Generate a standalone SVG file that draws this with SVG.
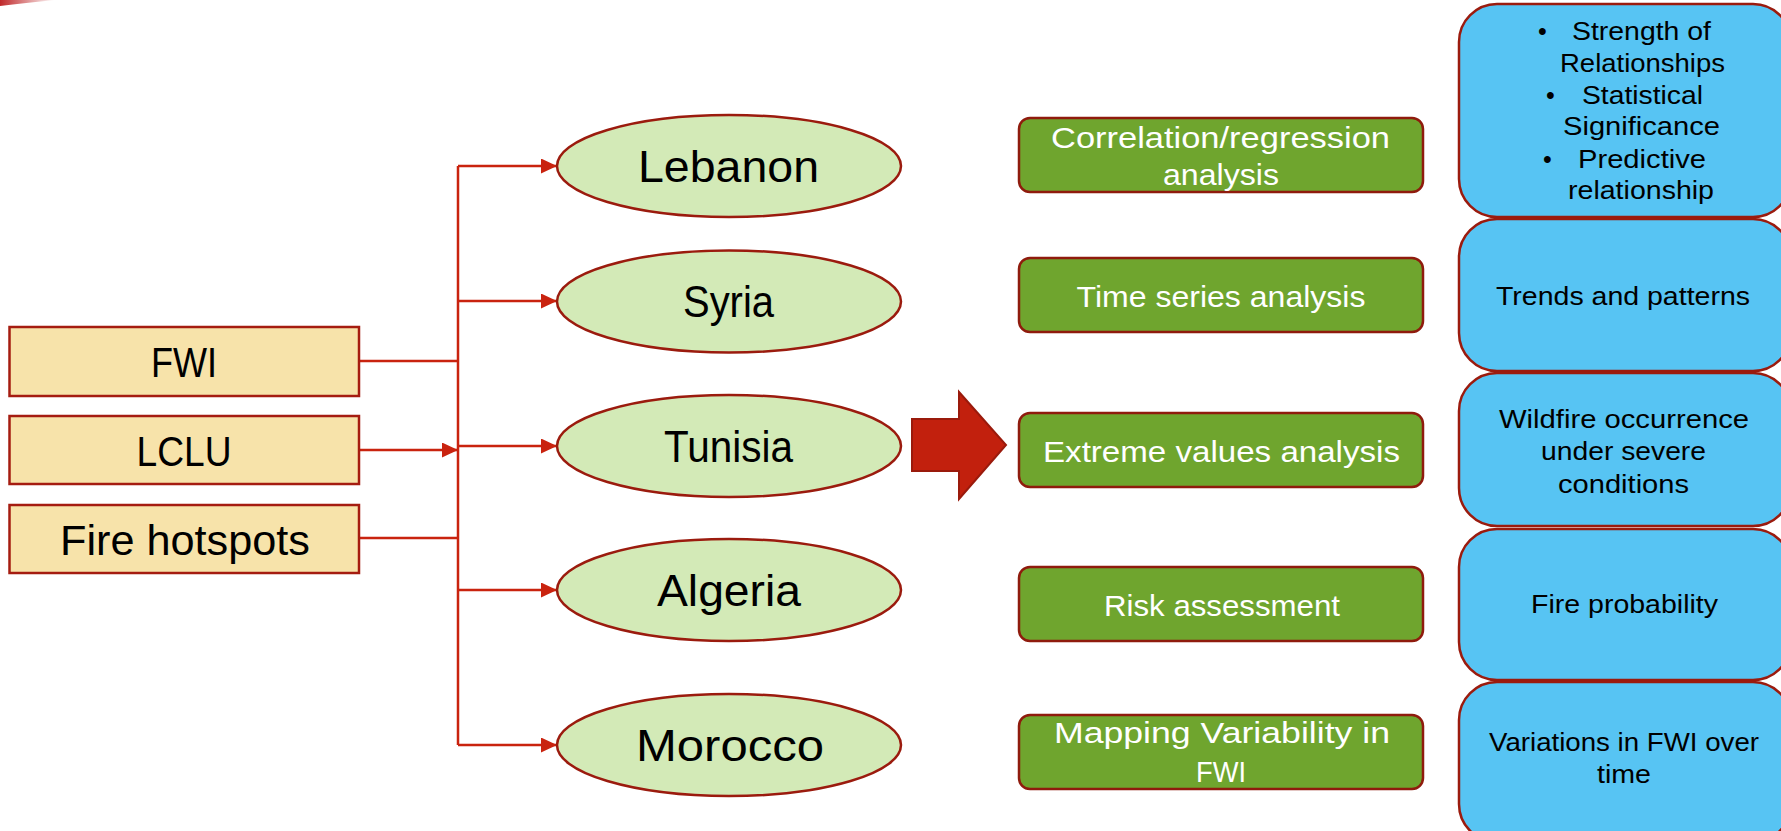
<svg xmlns="http://www.w3.org/2000/svg" width="1781" height="831" viewBox="0 0 1781 831">
<defs>
<style>
.src{fill:#f7e3aa;stroke:#a51c10;stroke-width:2.5}
.ell{fill:#d3eab7;stroke:#9b1b0e;stroke-width:2.5}
.grn{fill:#6fa52e;stroke:#8f1b0d;stroke-width:2.5}
.blu{fill:#57c4f3;stroke:#9b1b0e;stroke-width:2.5}
.con{fill:none;stroke:#c9230f;stroke-width:2.5}
text{font-family:"Liberation Sans",Arial,sans-serif}
.t1{font-size:43px;fill:#000;text-anchor:middle}
.t2{font-size:44px;fill:#000;text-anchor:middle}
.tg{font-size:29px;fill:#fff;text-anchor:middle}
.tb{font-size:25px;fill:#000;text-anchor:middle}
.tbs{font-size:25px;fill:#000}
</style>
<marker id="ah" markerUnits="userSpaceOnUse" markerWidth="16" markerHeight="16" refX="16" refY="7.5" orient="auto">
<path d="M0,0 L16,7.5 L0,15 Z" fill="#c9230f"/>
</marker>
<linearGradient id="sw" x1="0" y1="0" x2="1" y2="0">
<stop offset="0" stop-color="#c0282a"/>
<stop offset="1" stop-color="#c0282a" stop-opacity="0"/>
</linearGradient>
</defs>
<rect width="1781" height="831" fill="#fff"/>
<path d="M0,0 L55,0 Q25,3 0,6 Z" fill="url(#sw)"/>

<g id="connectors">
<path class="con" d="M458,166 L458,745"/>
<path class="con" d="M359,361 L458,361"/>
<path class="con" d="M359,450 L458,450" marker-end="url(#ah)"/>
<path class="con" d="M359,538 L458,538"/>
<path class="con" d="M458,166 L557,166" marker-end="url(#ah)"/>
<path class="con" d="M458,301 L557,301" marker-end="url(#ah)"/>
<path class="con" d="M458,446 L557,446" marker-end="url(#ah)"/>
<path class="con" d="M458,590 L557,590" marker-end="url(#ah)"/>
<path class="con" d="M458,745 L557,745" marker-end="url(#ah)"/>
<path d="M912,419 L959,419 L959,392 L1006,445 L959,499 L959,471 L912,471 Z" fill="#c2200d" stroke="#9a1a0c" stroke-width="2"/>
</g>

<g id="n-fwi"><rect class="src" x="9.5" y="327" width="349.5" height="69"/><text class="t1" x="184" y="377" textLength="66" lengthAdjust="spacingAndGlyphs">FWI</text></g>
<g id="n-lclu"><rect class="src" x="9.5" y="416" width="349.5" height="68"/><text class="t1" x="184" y="466" textLength="95" lengthAdjust="spacingAndGlyphs">LCLU</text></g>
<g id="n-fire"><rect class="src" x="9.5" y="505" width="349.5" height="68"/><text class="t1" x="185" y="555" textLength="250" lengthAdjust="spacingAndGlyphs">Fire hotspots</text></g>

<g id="n-lebanon"><ellipse class="ell" cx="729" cy="166" rx="172" ry="51"/><text class="t2" x="728.5" y="182" textLength="181" lengthAdjust="spacingAndGlyphs">Lebanon</text></g>
<g id="n-syria"><ellipse class="ell" cx="729" cy="301.5" rx="172" ry="51"/><text class="t2" x="728.5" y="317" textLength="91" lengthAdjust="spacingAndGlyphs">Syria</text></g>
<g id="n-tunisia"><ellipse class="ell" cx="729" cy="446" rx="172" ry="51"/><text class="t2" x="728.5" y="462" textLength="129" lengthAdjust="spacingAndGlyphs">Tunisia</text></g>
<g id="n-algeria"><ellipse class="ell" cx="729" cy="590" rx="172" ry="51"/><text class="t2" x="729" y="606" textLength="144" lengthAdjust="spacingAndGlyphs">Algeria</text></g>
<g id="n-morocco"><ellipse class="ell" cx="729" cy="745" rx="172" ry="51"/><text class="t2" x="730" y="761" textLength="188" lengthAdjust="spacingAndGlyphs">Morocco</text></g>

<g id="n-corr"><rect class="grn" x="1019" y="118" width="404" height="74" rx="11"/><text class="tg" x="1220.5" y="148" textLength="339" lengthAdjust="spacingAndGlyphs">Correlation/regression</text><text class="tg" x="1221" y="185" textLength="116" lengthAdjust="spacingAndGlyphs">analysis</text></g>
<g id="n-time"><rect class="grn" x="1019" y="258" width="404" height="74" rx="11"/><text class="tg" x="1221" y="307" textLength="289" lengthAdjust="spacingAndGlyphs">Time series analysis</text></g>
<g id="n-extreme"><rect class="grn" x="1019" y="413" width="404" height="74" rx="11"/><text class="tg" x="1221.5" y="462" textLength="357" lengthAdjust="spacingAndGlyphs">Extreme values analysis</text></g>
<g id="n-risk"><rect class="grn" x="1019" y="567" width="404" height="74" rx="11"/><text class="tg" x="1222" y="616" textLength="236" lengthAdjust="spacingAndGlyphs">Risk assessment</text></g>
<g id="n-mapping"><rect class="grn" x="1019" y="715" width="404" height="74" rx="11"/><text class="tg" x="1222" y="743" textLength="336" lengthAdjust="spacingAndGlyphs">Mapping Variability in</text><text class="tg" x="1221" y="782" textLength="50" lengthAdjust="spacingAndGlyphs">FWI</text></g>

<g id="n-strength"><rect class="blu" x="1459" y="4" width="332" height="213" rx="38"/>
<text class="tbs" x="1538" y="40">•</text><text class="tbs" x="1572" y="40" textLength="139" lengthAdjust="spacingAndGlyphs">Strength of</text>
<text class="tbs" x="1560" y="72" textLength="165" lengthAdjust="spacingAndGlyphs">Relationships</text>
<text class="tbs" x="1546" y="104">•</text><text class="tbs" x="1582" y="104" textLength="121" lengthAdjust="spacingAndGlyphs">Statistical</text>
<text class="tbs" x="1563" y="135" textLength="157" lengthAdjust="spacingAndGlyphs">Significance</text>
<text class="tbs" x="1543" y="168">•</text><text class="tbs" x="1578" y="168" textLength="128" lengthAdjust="spacingAndGlyphs">Predictive</text>
<text class="tbs" x="1568" y="199" textLength="146" lengthAdjust="spacingAndGlyphs">relationship</text>
</g>
<g id="n-trends"><rect class="blu" x="1459" y="219" width="332" height="152" rx="38"/><text class="tb" x="1623" y="305" textLength="254" lengthAdjust="spacingAndGlyphs">Trends and patterns</text></g>
<g id="n-wildfire"><rect class="blu" x="1459" y="373" width="332" height="153" rx="38"/><text class="tb" x="1624" y="428" textLength="250" lengthAdjust="spacingAndGlyphs">Wildfire occurrence</text><text class="tb" x="1623.5" y="460" textLength="165" lengthAdjust="spacingAndGlyphs">under severe</text><text class="tb" x="1623.5" y="493" textLength="131" lengthAdjust="spacingAndGlyphs">conditions</text></g>
<g id="n-prob"><rect class="blu" x="1459" y="529" width="332" height="151" rx="38"/><text class="tb" x="1624.5" y="613" textLength="187" lengthAdjust="spacingAndGlyphs">Fire probability</text></g>
<g id="n-variations"><rect class="blu" x="1459" y="682" width="332" height="160" rx="38"/><text class="tb" x="1624" y="751" textLength="270" lengthAdjust="spacingAndGlyphs">Variations in FWI over</text><text class="tb" x="1624" y="783" textLength="54" lengthAdjust="spacingAndGlyphs">time</text></g>
</svg>
